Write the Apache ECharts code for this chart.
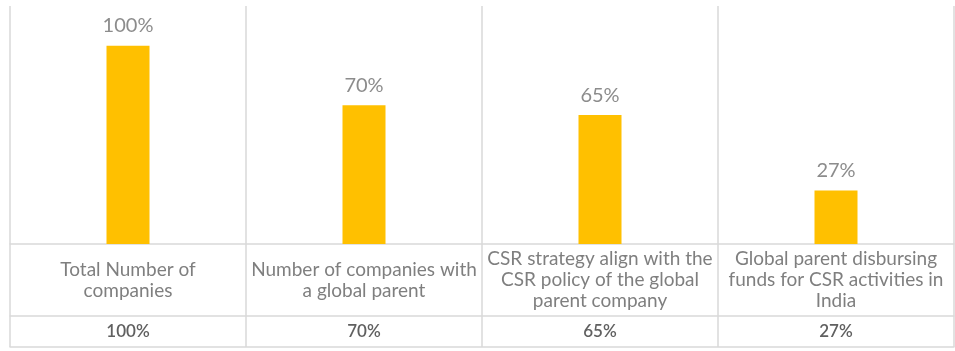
<!DOCTYPE html>
<html>
<head>
<meta charset="utf-8">
<script src="https://cdn.jsdelivr.net/npm/echarts@6/dist/echarts.min.js"></script>
<style>
  html, body { margin: 0; padding: 0; background: #ffffff; }
  #chart { width: 955px; height: 351px; }
</style>
</head>
<body>
<div id="chart"></div>
<script>
// Categories (with line breaks as shown under each bar)
const categories = [
  'Total Number of\ncompanies',
  'Number of companies with\na global parent',
  'CSR strategy align with the\nCSR policy of the global\nparent company',
  'Global parent disbursing\nfunds for CSR activities in\nIndia'
];
// Share of companies, in percent
const values = [100, 70, 65, 27];
// Data-table row under the category labels
const tableLabels = values.map(v => v + '%');

const FONT = 'Lato, "Open Sans", sans-serif';
const LINE = '#d9d9d9';

const chart = echarts.init(document.getElementById('chart'), null, { renderer: 'canvas' });

chart.setOption({
  animation: false,
  backgroundColor: '#ffffff',
  grid: { left: 10, right: 1, top: 6, bottom: 107, containLabel: false },
  xAxis: [
    {
      type: 'category',
      data: categories,
      position: 'bottom',
      axisLine: { show: true, lineStyle: { color: LINE, width: 1.5 } },
      axisTick: { show: true, length: 103, lineStyle: { color: LINE, width: 1.5 } },
      splitLine: { show: true, lineStyle: { color: LINE, width: 1.5 } },
      axisLabel: {
        interval: 0,
        margin: 36,
        verticalAlign: 'middle',
        align: 'center',
        fontFamily: FONT,
        fontSize: 19,
        lineHeight: 21,
        color: '#7f7f7f'
      }
    },
    {
      type: 'category',
      data: tableLabels,
      position: 'bottom',
      offset: 72,
      axisLine: { show: true, lineStyle: { color: LINE, width: 1.5 } },
      axisTick: { show: false },
      splitLine: { show: false },
      axisLabel: {
        interval: 0,
        margin: 16,
        verticalAlign: 'middle',
        fontFamily: FONT,
        fontSize: 17,
        fontWeight: 600,
        color: '#606060'
      }
    },
    {
      type: 'category',
      data: tableLabels,
      position: 'bottom',
      offset: 103,
      axisLine: { show: true, lineStyle: { color: LINE, width: 1.5 } },
      axisTick: { show: false },
      splitLine: { show: false },
      axisLabel: { show: false }
    }
  ],
  yAxis: {
    type: 'value',
    min: 0,
    max: 120,
    show: false
  },
  series: [
    {
      type: 'bar',
      xAxisIndex: 0,
      data: values,
      barWidth: 43,
      itemStyle: { color: '#ffc000' },
      label: {
        show: true,
        position: 'top',
        distance: 10,
        formatter: '{c}%',
        fontFamily: FONT,
        fontSize: 20,
        color: '#8c8c8c'
      }
    }
  ]
});
</script>
</body>
</html>
